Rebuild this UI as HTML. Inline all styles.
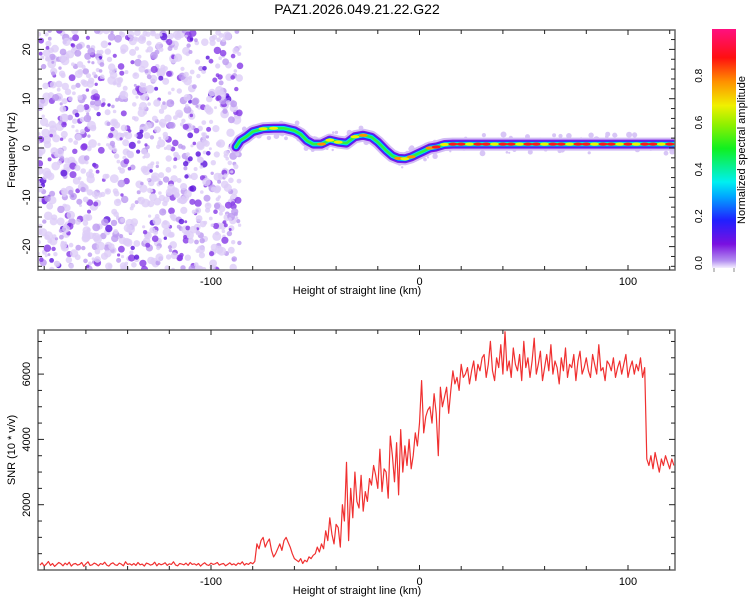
<!DOCTYPE html>
<html><head><meta charset="utf-8"><style>
html,body{margin:0;padding:0;background:#fff;}
svg{display:block;font-family:"Liberation Sans",sans-serif;}
</style></head><body>
<svg id="chart" width="750" height="600" viewBox="0 0 750 600">
<defs>
<linearGradient id="cmap" x1="0" y1="1" x2="0" y2="0">
<stop offset="0" stop-color="#f4efff"/><stop offset="0.03" stop-color="#b490f0"/><stop offset="0.1" stop-color="#7a10e0"/>
<stop offset="0.2" stop-color="#2020ff"/><stop offset="0.3" stop-color="#00a8ff"/><stop offset="0.36" stop-color="#00f0f0"/>
<stop offset="0.5" stop-color="#10f020"/><stop offset="0.6" stop-color="#90f000"/><stop offset="0.68" stop-color="#f0f000"/>
<stop offset="0.78" stop-color="#ff9000"/><stop offset="0.88" stop-color="#ff1010"/><stop offset="1" stop-color="#ff1080"/>
</linearGradient>
<clipPath id="clipTop"><rect x="38" y="30" width="637" height="240"/></clipPath>
<clipPath id="clipBot"><rect x="38" y="330" width="637" height="240"/></clipPath>
</defs>
<text x="357" y="14" font-size="14" text-anchor="middle" fill="#000">PAZ1.2026.049.21.22.G22</text>
<g id="topPanel" clip-path="url(#clipTop)"></g>
<g id="botPanel" clip-path="url(#clipBot)"></g>
<g id="axesGroup"></g>
<rect x="712" y="29" width="24" height="239" fill="url(#cmap)"/>
<text transform="translate(745,150) rotate(-90)" font-size="11" text-anchor="middle">Normalized spectral amplitude</text>
</svg>
<script>
// ---- data ----
const snrStartKm = -182;
const snrValues = [
150,220,120,180,260,140,200,110,170,230,190,130,210,160,240,120,180,200,150,170,
230,110,190,250,140,160,210,180,130,200,170,240,150,120,190,220,160,140,210,180,
130,250,170,190,150,200,140,230,160,180,120,210,190,150,170,240,130,200,160,180,
220,140,190,170,250,150,130,200,180,160,210,140,230,170,190,150,200,120,180,220,
160,140,210,170,190,230,150,180,200,130,170,220,160,190,140,210,180,250,150,200,
170,230,190,260,
800,650,900,1000,700,850,950,600,400,500,650,800,600,900,1000,850,700,500,350,
300,250,350,200,300,250,400,350,450,500,
700,550,800,650,1200,900,1600,1100,800,1400,
1300,700,2000,1500,3300,900,2500,1600,3000,2100,
1900,2900,1800,2400,2100,2800,2600,3200,2900,2500,
3700,2400,3100,3000,2200,4100,3500,2700,3900,2300,
4300,3000,3800,3200,4000,3100,3500,4200,3800,4500,
5800,4200,4700,4900,5000,4500,5400,4800,3500,5600,
5000,5300,5600,4800,5500,6100,5700,5900,5500,6300,
5900,6000,6200,5700,6100,6400,5800,6300,6100,6500,
6600,5900,6300,7000,6100,5800,6500,6200,6900,6000,
7300,6100,6400,5900,6800,6300,6100,6600,5800,7000,
6200,6500,5900,6400,7100,6000,6300,6700,5800,6200,
6600,6100,6900,6000,6400,6200,5700,6500,6100,6800,
5900,6300,6200,6600,5800,6400,6700,6000,6200,6500,
6100,5900,6600,6300,6000,6900,6100,6200,5800,6400,
6300,6100,6500,5900,6200,6400,6000,6300,6600,5900,
6200,6400,6000,6300,6100,6500,5900,6200,
3400,3200,3500,3100,3600,3300,3000,3400,3200,3500,3300,3100,3400,3200];
const trackKm  = [-88,-86,-83,-80,-75,-70,-65,-60,-57,-54,-51,-47,-43,-39,-35,-31,-27,-23,-20,-16,-13,-10,-7,-4,-1,2,5,8,12,16,20,24,28,32,36,40,44,48,52,56,60,64,68,72,76,80,84,88,92,96,100,104,108,112,116,120,124];
const trackHz  = [0.2,1.5,2.3,3.3,3.9,4.0,4.0,3.5,2.8,1.5,0.8,0.8,1.6,1.2,1.0,2.3,2.6,2.2,1.2,-0.5,-1.6,-2.1,-2.2,-1.8,-1.2,-0.6,0,0.2,0.7,0.8,0.8,0.8,0.8,0.8,0.8,0.8,0.8,0.8,0.8,0.8,0.8,0.8,0.8,0.8,0.8,0.8,0.8,0.8,0.8,0.8,0.8,0.8,0.8,0.8,0.8,0.8,0.8];
const trackAmp = [0.35,0.4,0.45,0.5,0.75,0.7,0.6,0.5,0.6,0.5,0.5,0.8,0.75,0.7,0.6,0.7,0.85,0.6,0.5,0.5,0.6,0.85,0.7,0.8,0.6,0.6,0.8,0.9,0.7,0.95,0.95,0.7,0.95,0.9,0.7,0.95,0.9,0.7,0.95,0.95,0.7,0.9,0.95,0.7,0.9,0.95,0.7,0.95,0.9,0.7,0.95,0.7,0.9,0.95,0.7,0.9,0.95];
const xTicks = [-100,0,100];
const freqTicks = [20,10,0,-10,-20];
const snrTicks = [6000,4000,2000];
const cbTicks = [0.0,0.2,0.4,0.6,0.8];

// ---- scales ----
const X0=38,X1=675;
const xs = km => 419.5 + 2.085*km;
const yf = hz => 148 - 4.93*hz;
const ys = v => 570 - v*65.3/2000;
const yc = a => 263 - a*234;
const NS="http://www.w3.org/2000/svg";
function mk(tag, attrs, parent){const e=document.createElementNS(NS,tag);for(const k in attrs)e.setAttribute(k,attrs[k]);parent.appendChild(e);return e;}
const topG=document.getElementById('topPanel'), botG=document.getElementById('botPanel'), axesG=document.getElementById('axesGroup');

// noise texture (deterministic)
let seed=12345; const rnd=()=>{seed=(seed*1103515245+12345)%2147483648;return seed/2147483648;};
for(let i=0;i<1100;i++){
  const x=38+rnd()*202, y=30+rnd()*240, d=rnd();
  let r, c;
  if(d<0.6){r=1.5+rnd()*3; c='#ddcdf7';}
  else if(d<0.8){r=1.5+rnd()*2.5; c='#bb98f0';}
  else {r=1.5+rnd()*2.2; c= rnd()<0.8?'#8438e6':'#5a12dc';}
  const el=mk('circle',{cx:x.toFixed(1),cy:y.toFixed(1),r:r.toFixed(1),fill:c,'fill-opacity':0.8},topG);
  
  
}
for(let i=0;i<160;i++){
  const k=trackKm[0]+rnd()*(124-trackKm[0]);
  let j=0;while(j<trackKm.length-2&&trackKm[j+1]<k)j++;
  const t=(k-trackKm[j])/(trackKm[j+1]-trackKm[j]);
  const hz=trackHz[j]+t*(trackHz[j+1]-trackHz[j]);
  const el=mk('circle',{cx:xs(k).toFixed(1),cy:(yf(hz)+(rnd()-0.5)*20).toFixed(1),r:(1+rnd()*2).toFixed(1),fill:'#d8c6f6'},topG);
  
  
}
// track
const pts = trackKm.map((k,i)=>xs(k).toFixed(1)+','+yf(trackHz[i]).toFixed(1)).join(' ');
[[13,'#d2bcf5'],[9,'#7a18e6'],[6.5,'#2a2aff'],[4.5,'#00e0f0'],[2.5,'#30f040']].forEach(([w,c])=>{
  const pl=mk('polyline',{points:pts,fill:'none',stroke:c,'stroke-width':w,'stroke-linejoin':'round','stroke-linecap':'round'},topG);
  
  
});
function ampColor(a){return a>=0.9?'#ff1818':a>=0.8?'#ff9000':a>=0.7?'#f0f000':'#30f040';}
trackKm.forEach((k,i)=>{
  if(trackAmp[i]<0.7)return;
  const e=mk('ellipse',{cx:xs(k).toFixed(1),cy:yf(trackHz[i]).toFixed(1),rx:4.5,ry:1.6,fill:ampColor(trackAmp[i])},topG);
  
  
});
// snr line
const sp = snrValues.map((v,i)=>xs(snrStartKm+i).toFixed(1)+','+ys(v).toFixed(1)).join(' ');
const line=mk('polyline',{points:sp,fill:'none',stroke:'#f03030','stroke-width':1.2,'stroke-linejoin':'round'},botG);



// axes frames & ticks
function frame(y0,y1,name){
  const r=mk('rect',{x:X0,y:y0,width:X1-X0,height:y1-y0,fill:'none',stroke:'#666','stroke-width':1.5},axesG);
  
  
  for(let k=-180;k<=120;k+=20){
    const x=xs(k); const L=(k%100===0)?5:4;
    mk('line',{x1:x,y1:y0,x2:x,y2:y0+L,stroke:'#222','stroke-width':1},axesG);
    mk('line',{x1:x,y1:y1,x2:x,y2:y1-L,stroke:'#222','stroke-width':1},axesG);
  }
  xTicks.forEach(k=>{
    const t=mk('text',{x:xs(k),y:y1+15,'font-size':11,'text-anchor':'middle'},axesG);t.textContent=k;
    
    
  });
  const tt=mk('text',{x:357,y:y1+24,'font-size':11,'text-anchor':'middle'},axesG);tt.textContent='Height of straight line (km)';
  
  
}
frame(30,270,'spectrogram-frame');
frame(330,570,'snr-frame');
for(let h=-24;h<=24;h+=2){const y=yf(h);if(y<30||y>270)continue;const L=h%10===0?6:4;
  mk('line',{x1:X0,y1:y,x2:X0+L,y2:y,stroke:'#222'},axesG);mk('line',{x1:X1,y1:y,x2:X1-L,y2:y,stroke:'#222'},axesG);}
freqTicks.forEach(h=>{const t=mk('text',{transform:`translate(30,${yf(h)}) rotate(-90)`,'font-size':11,'text-anchor':'middle'},axesG);t.textContent=h;
  
  });
let t1=mk('text',{transform:'translate(15,150) rotate(-90)','font-size':11,'text-anchor':'middle'},axesG);t1.textContent='Frequency (Hz)';


for(let v=500;v<=7000;v+=500){const y=ys(v);const L=v%2000===0?6:4;
  mk('line',{x1:X0,y1:y,x2:X0+L,y2:y,stroke:'#222'},axesG);mk('line',{x1:X1,y1:y,x2:X1-L,y2:y,stroke:'#222'},axesG);}
snrTicks.forEach(v=>{const t=mk('text',{transform:`translate(30,${ys(v)}) rotate(-90)`,'font-size':11,'text-anchor':'middle'},axesG);t.textContent=v;
  
  });
let t2=mk('text',{transform:'translate(15,450) rotate(-90)','font-size':11,'text-anchor':'middle'},axesG);t2.textContent='SNR (10 * v/v)';


cbTicks.forEach(a=>{const t=mk('text',{transform:`translate(702,${yc(a)}) rotate(-90)`,'font-size':10,'text-anchor':'middle'},axesG);t.textContent=a.toFixed(1);
  
  });
mk('line',{x1:714,y1:268,x2:714,y2:272,stroke:'#888'},axesG);
mk('line',{x1:734,y1:268,x2:734,y2:272,stroke:'#888'},axesG);
</script>
</body></html>
